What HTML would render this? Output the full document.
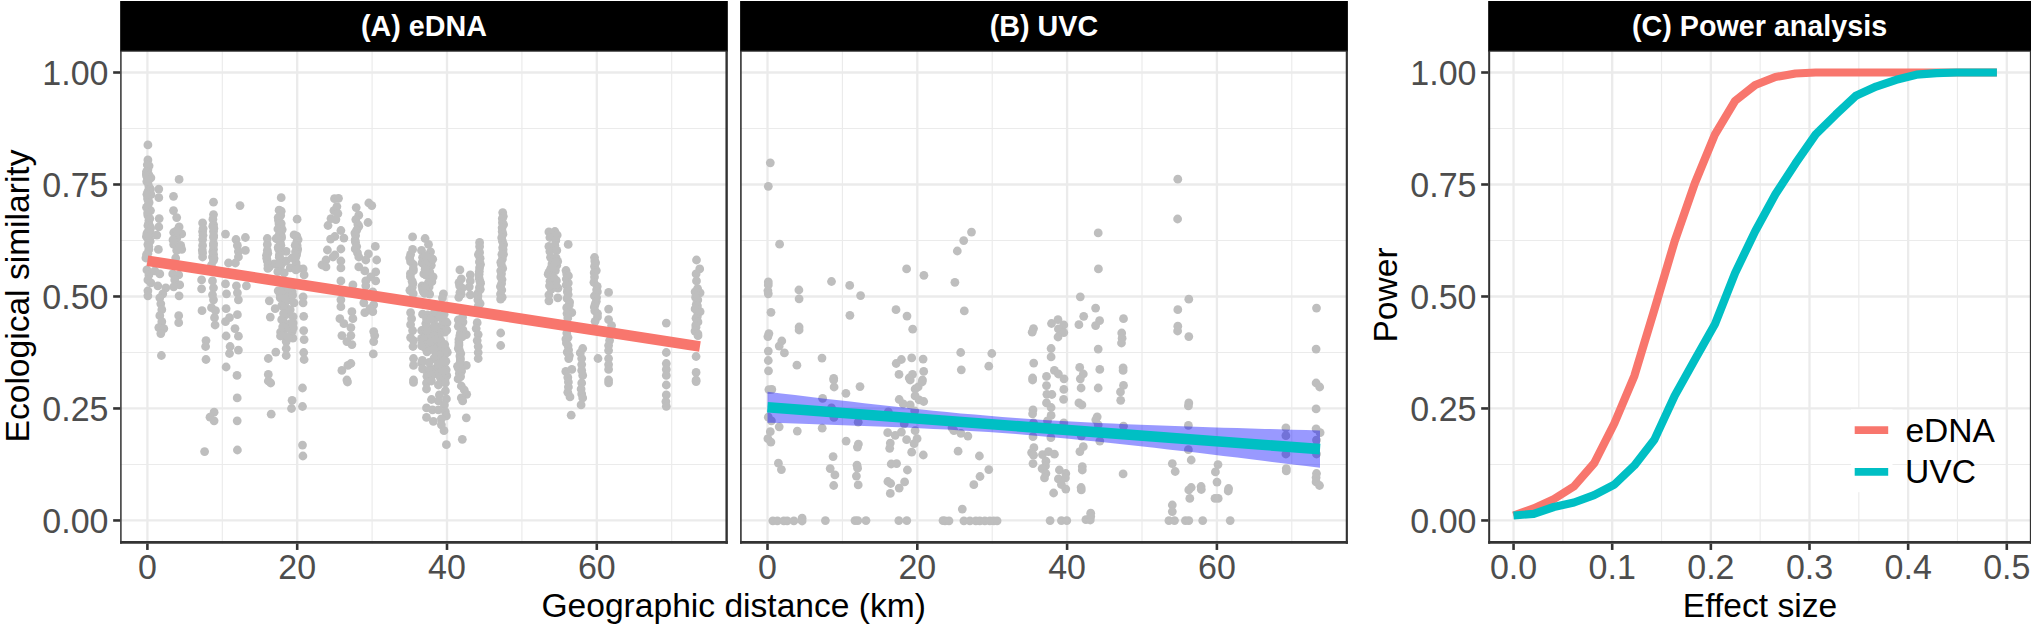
<!DOCTYPE html>
<html><head><meta charset="utf-8"><title>Figure</title>
<style>html,body{margin:0;padding:0;background:#fff}svg{display:block}</style></head>
<body>
<svg width="2031" height="628" viewBox="0 0 2031 628" font-family="'Liberation Sans', sans-serif">
<rect width="2031" height="628" fill="#fff"/>
<g>
<line x1="120.15" x2="727.83" y1="464.46" y2="464.46" stroke="#EBEBEB" stroke-width="1.15"/>
<line x1="120.15" x2="727.83" y1="352.47" y2="352.47" stroke="#EBEBEB" stroke-width="1.15"/>
<line x1="120.15" x2="727.83" y1="240.48" y2="240.48" stroke="#EBEBEB" stroke-width="1.15"/>
<line x1="120.15" x2="727.83" y1="128.49" y2="128.49" stroke="#EBEBEB" stroke-width="1.15"/>
<line x1="222.30" x2="222.30" y1="50.75" y2="543.75" stroke="#EBEBEB" stroke-width="1.15"/>
<line x1="372.10" x2="372.10" y1="50.75" y2="543.75" stroke="#EBEBEB" stroke-width="1.15"/>
<line x1="521.90" x2="521.90" y1="50.75" y2="543.75" stroke="#EBEBEB" stroke-width="1.15"/>
<line x1="671.70" x2="671.70" y1="50.75" y2="543.75" stroke="#EBEBEB" stroke-width="1.15"/>
<line x1="120.15" x2="727.83" y1="520.45" y2="520.45" stroke="#EBEBEB" stroke-width="2.3"/>
<line x1="120.15" x2="727.83" y1="408.46" y2="408.46" stroke="#EBEBEB" stroke-width="2.3"/>
<line x1="120.15" x2="727.83" y1="296.48" y2="296.48" stroke="#EBEBEB" stroke-width="2.3"/>
<line x1="120.15" x2="727.83" y1="184.49" y2="184.49" stroke="#EBEBEB" stroke-width="2.3"/>
<line x1="120.15" x2="727.83" y1="72.50" y2="72.50" stroke="#EBEBEB" stroke-width="2.3"/>
<line x1="147.40" x2="147.40" y1="50.75" y2="543.75" stroke="#EBEBEB" stroke-width="2.3"/>
<line x1="297.20" x2="297.20" y1="50.75" y2="543.75" stroke="#EBEBEB" stroke-width="2.3"/>
<line x1="447.00" x2="447.00" y1="50.75" y2="543.75" stroke="#EBEBEB" stroke-width="2.3"/>
<line x1="596.80" x2="596.80" y1="50.75" y2="543.75" stroke="#EBEBEB" stroke-width="2.3"/>
</g>
<g fill="#BEBEBE">
<circle cx="147.9" cy="144.9" r="4.4"/>
<circle cx="147.9" cy="159.9" r="4.4"/>
<circle cx="147.3" cy="164.8" r="4.4"/>
<circle cx="147.9" cy="169.8" r="4.4"/>
<circle cx="148.9" cy="174.8" r="4.4"/>
<circle cx="150.9" cy="177.8" r="4.4"/>
<circle cx="147.9" cy="182.7" r="4.4"/>
<circle cx="148.9" cy="186.7" r="4.4"/>
<circle cx="147.9" cy="191.7" r="4.4"/>
<circle cx="150.9" cy="194.7" r="4.4"/>
<circle cx="147.9" cy="199.7" r="4.4"/>
<circle cx="147.9" cy="205.6" r="4.4"/>
<circle cx="150.5" cy="210.6" r="4.4"/>
<circle cx="147.9" cy="215.6" r="4.4"/>
<circle cx="148.9" cy="220.5" r="4.4"/>
<circle cx="147.9" cy="225.5" r="4.4"/>
<circle cx="149.9" cy="229.5" r="4.4"/>
<circle cx="150.9" cy="233.5" r="4.4"/>
<circle cx="147.9" cy="238.5" r="4.4"/>
<circle cx="147.9" cy="244.4" r="4.4"/>
<circle cx="148.9" cy="249.4" r="4.4"/>
<circle cx="147.9" cy="253.4" r="4.4"/>
<circle cx="158.8" cy="189.1" r="4.4"/>
<circle cx="158.8" cy="197.7" r="4.4"/>
<circle cx="159.2" cy="218.6" r="4.4"/>
<circle cx="158.8" cy="226.9" r="4.4"/>
<circle cx="156.8" cy="235.1" r="4.4"/>
<circle cx="158.4" cy="249.4" r="4.4"/>
<circle cx="179.1" cy="179.4" r="4.4"/>
<circle cx="173.5" cy="196.3" r="4.4"/>
<circle cx="173.5" cy="210.6" r="4.4"/>
<circle cx="176.7" cy="217.6" r="4.4"/>
<circle cx="179.1" cy="226.9" r="4.4"/>
<circle cx="173.7" cy="232.5" r="4.4"/>
<circle cx="181.7" cy="233.9" r="4.4"/>
<circle cx="176.7" cy="238.5" r="4.4"/>
<circle cx="173.7" cy="244.4" r="4.4"/>
<circle cx="180.7" cy="245.4" r="4.4"/>
<circle cx="176.7" cy="250.4" r="4.4"/>
<circle cx="181.7" cy="249.4" r="4.4"/>
<circle cx="202.6" cy="222.9" r="4.4"/>
<circle cx="202.6" cy="231.5" r="4.4"/>
<circle cx="202.6" cy="239.5" r="4.4"/>
<circle cx="202.6" cy="245.4" r="4.4"/>
<circle cx="202.6" cy="253.0" r="4.4"/>
<circle cx="213.5" cy="202.2" r="4.4"/>
<circle cx="213.5" cy="214.6" r="4.4"/>
<circle cx="213.5" cy="224.5" r="4.4"/>
<circle cx="213.5" cy="231.5" r="4.4"/>
<circle cx="213.5" cy="237.5" r="4.4"/>
<circle cx="213.5" cy="243.4" r="4.4"/>
<circle cx="213.5" cy="249.4" r="4.4"/>
<circle cx="225.5" cy="234.1" r="4.4"/>
<circle cx="240.0" cy="205.6" r="4.4"/>
<circle cx="245.4" cy="237.5" r="4.4"/>
<circle cx="236.0" cy="239.5" r="4.4"/>
<circle cx="237.4" cy="245.4" r="4.4"/>
<circle cx="245.4" cy="250.4" r="4.4"/>
<circle cx="238.4" cy="251.4" r="4.4"/>
<circle cx="267.3" cy="238.5" r="4.4"/>
<circle cx="267.3" cy="244.4" r="4.4"/>
<circle cx="267.3" cy="250.4" r="4.4"/>
<circle cx="281.2" cy="197.7" r="4.4"/>
<circle cx="281.2" cy="211.2" r="4.4"/>
<circle cx="278.2" cy="217.6" r="4.4"/>
<circle cx="281.2" cy="223.5" r="4.4"/>
<circle cx="279.2" cy="227.5" r="4.4"/>
<circle cx="282.2" cy="229.5" r="4.4"/>
<circle cx="276.2" cy="238.5" r="4.4"/>
<circle cx="281.2" cy="235.5" r="4.4"/>
<circle cx="280.2" cy="242.4" r="4.4"/>
<circle cx="278.2" cy="247.4" r="4.4"/>
<circle cx="286.2" cy="251.4" r="4.4"/>
<circle cx="280.2" cy="252.4" r="4.4"/>
<circle cx="297.1" cy="219.2" r="4.4"/>
<circle cx="294.1" cy="234.9" r="4.4"/>
<circle cx="298.1" cy="239.5" r="4.4"/>
<circle cx="297.1" cy="245.4" r="4.4"/>
<circle cx="297.1" cy="251.4" r="4.4"/>
<circle cx="149.1" cy="165.8" r="4.4"/>
<circle cx="146.5" cy="171.6" r="4.4"/>
<circle cx="146.4" cy="174.1" r="4.4"/>
<circle cx="146.6" cy="176.1" r="4.4"/>
<circle cx="148.1" cy="179.9" r="4.4"/>
<circle cx="146.8" cy="181.5" r="4.4"/>
<circle cx="150.5" cy="189.0" r="4.4"/>
<circle cx="150.0" cy="192.0" r="4.4"/>
<circle cx="146.9" cy="194.3" r="4.4"/>
<circle cx="147.6" cy="198.0" r="4.4"/>
<circle cx="149.1" cy="202.4" r="4.4"/>
<circle cx="146.5" cy="207.4" r="4.4"/>
<circle cx="147.6" cy="213.1" r="4.4"/>
<circle cx="149.8" cy="218.5" r="4.4"/>
<circle cx="148.6" cy="223.9" r="4.4"/>
<circle cx="149.5" cy="225.6" r="4.4"/>
<circle cx="150.6" cy="227.9" r="4.4"/>
<circle cx="148.1" cy="231.5" r="4.4"/>
<circle cx="146.9" cy="233.7" r="4.4"/>
<circle cx="146.4" cy="236.5" r="4.4"/>
<circle cx="149.6" cy="239.0" r="4.4"/>
<circle cx="150.1" cy="241.2" r="4.4"/>
<circle cx="148.8" cy="246.5" r="4.4"/>
<circle cx="146.5" cy="254.7" r="4.4"/>
<circle cx="334.5" cy="198.7" r="4.4"/>
<circle cx="338.5" cy="198.3" r="4.4"/>
<circle cx="336.9" cy="206.6" r="4.4"/>
<circle cx="333.9" cy="210.6" r="4.4"/>
<circle cx="337.9" cy="213.6" r="4.4"/>
<circle cx="331.0" cy="218.6" r="4.4"/>
<circle cx="335.9" cy="219.6" r="4.4"/>
<circle cx="328.0" cy="225.5" r="4.4"/>
<circle cx="340.9" cy="230.5" r="4.4"/>
<circle cx="334.9" cy="236.5" r="4.4"/>
<circle cx="330.6" cy="239.1" r="4.4"/>
<circle cx="343.9" cy="238.1" r="4.4"/>
<circle cx="327.4" cy="250.0" r="4.4"/>
<circle cx="340.9" cy="249.0" r="4.4"/>
<circle cx="334.9" cy="255.0" r="4.4"/>
<circle cx="356.2" cy="207.6" r="4.4"/>
<circle cx="358.8" cy="215.2" r="4.4"/>
<circle cx="355.8" cy="219.6" r="4.4"/>
<circle cx="368.8" cy="203.0" r="4.4"/>
<circle cx="371.8" cy="205.6" r="4.4"/>
<circle cx="368.0" cy="222.5" r="4.4"/>
<circle cx="375.3" cy="246.4" r="4.4"/>
<circle cx="368.4" cy="253.8" r="4.4"/>
<circle cx="412.6" cy="236.9" r="4.4"/>
<circle cx="425.1" cy="238.5" r="4.4"/>
<circle cx="428.5" cy="244.4" r="4.4"/>
<circle cx="412.6" cy="249.4" r="4.4"/>
<circle cx="421.5" cy="250.4" r="4.4"/>
<circle cx="430.5" cy="251.8" r="4.4"/>
<circle cx="410.6" cy="254.4" r="4.4"/>
<circle cx="479.6" cy="242.4" r="4.4"/>
<circle cx="479.6" cy="246.4" r="4.4"/>
<circle cx="479.6" cy="252.4" r="4.4"/>
<circle cx="502.7" cy="212.6" r="4.4"/>
<circle cx="357.9" cy="224.5" r="4.4"/>
<circle cx="358.8" cy="226.3" r="4.4"/>
<circle cx="356.7" cy="230.2" r="4.4"/>
<circle cx="354.9" cy="233.0" r="4.4"/>
<circle cx="355.6" cy="235.5" r="4.4"/>
<circle cx="355.1" cy="240.0" r="4.4"/>
<circle cx="355.5" cy="242.2" r="4.4"/>
<circle cx="356.7" cy="246.5" r="4.4"/>
<circle cx="355.2" cy="248.9" r="4.4"/>
<circle cx="357.5" cy="252.9" r="4.4"/>
<circle cx="503.3" cy="216.3" r="4.4"/>
<circle cx="502.3" cy="218.6" r="4.4"/>
<circle cx="502.4" cy="222.7" r="4.4"/>
<circle cx="503.6" cy="224.5" r="4.4"/>
<circle cx="502.1" cy="227.8" r="4.4"/>
<circle cx="502.2" cy="231.5" r="4.4"/>
<circle cx="502.9" cy="234.2" r="4.4"/>
<circle cx="501.7" cy="237.7" r="4.4"/>
<circle cx="502.4" cy="241.2" r="4.4"/>
<circle cx="503.6" cy="244.6" r="4.4"/>
<circle cx="502.7" cy="247.6" r="4.4"/>
<circle cx="503.1" cy="249.7" r="4.4"/>
<circle cx="503.5" cy="254.3" r="4.4"/>
<circle cx="548.9" cy="231.9" r="4.4"/>
<circle cx="554.9" cy="231.5" r="4.4"/>
<circle cx="557.2" cy="235.1" r="4.4"/>
<circle cx="549.9" cy="237.5" r="4.4"/>
<circle cx="555.8" cy="240.4" r="4.4"/>
<circle cx="548.9" cy="246.4" r="4.4"/>
<circle cx="554.9" cy="245.4" r="4.4"/>
<circle cx="549.9" cy="251.4" r="4.4"/>
<circle cx="556.8" cy="250.4" r="4.4"/>
<circle cx="568.2" cy="244.4" r="4.4"/>
<circle cx="145.9" cy="258.0" r="4.4"/>
<circle cx="146.9" cy="269.9" r="4.4"/>
<circle cx="148.9" cy="274.9" r="4.4"/>
<circle cx="147.9" cy="279.9" r="4.4"/>
<circle cx="150.9" cy="282.9" r="4.4"/>
<circle cx="147.9" cy="290.8" r="4.4"/>
<circle cx="147.9" cy="295.8" r="4.4"/>
<circle cx="154.8" cy="270.9" r="4.4"/>
<circle cx="159.8" cy="273.9" r="4.4"/>
<circle cx="157.8" cy="285.8" r="4.4"/>
<circle cx="165.8" cy="287.8" r="4.4"/>
<circle cx="162.8" cy="293.8" r="4.4"/>
<circle cx="159.8" cy="297.8" r="4.4"/>
<circle cx="160.8" cy="303.8" r="4.4"/>
<circle cx="161.8" cy="309.7" r="4.4"/>
<circle cx="159.8" cy="315.7" r="4.4"/>
<circle cx="161.8" cy="321.7" r="4.4"/>
<circle cx="158.8" cy="327.6" r="4.4"/>
<circle cx="163.8" cy="328.6" r="4.4"/>
<circle cx="160.8" cy="333.6" r="4.4"/>
<circle cx="161.4" cy="355.5" r="4.4"/>
<circle cx="175.7" cy="258.0" r="4.4"/>
<circle cx="172.7" cy="273.9" r="4.4"/>
<circle cx="178.7" cy="274.9" r="4.4"/>
<circle cx="174.7" cy="279.9" r="4.4"/>
<circle cx="179.7" cy="284.9" r="4.4"/>
<circle cx="173.7" cy="286.8" r="4.4"/>
<circle cx="179.1" cy="295.8" r="4.4"/>
<circle cx="178.7" cy="315.7" r="4.4"/>
<circle cx="178.7" cy="322.7" r="4.4"/>
<circle cx="202.6" cy="257.0" r="4.4"/>
<circle cx="201.6" cy="279.9" r="4.4"/>
<circle cx="201.6" cy="288.8" r="4.4"/>
<circle cx="202.0" cy="310.7" r="4.4"/>
<circle cx="206.0" cy="340.6" r="4.4"/>
<circle cx="205.6" cy="346.5" r="4.4"/>
<circle cx="206.0" cy="359.5" r="4.4"/>
<circle cx="212.5" cy="257.0" r="4.4"/>
<circle cx="211.5" cy="265.0" r="4.4"/>
<circle cx="212.5" cy="280.9" r="4.4"/>
<circle cx="213.5" cy="287.8" r="4.4"/>
<circle cx="212.5" cy="294.8" r="4.4"/>
<circle cx="213.5" cy="299.8" r="4.4"/>
<circle cx="211.5" cy="307.7" r="4.4"/>
<circle cx="215.5" cy="310.7" r="4.4"/>
<circle cx="214.5" cy="317.7" r="4.4"/>
<circle cx="215.1" cy="325.0" r="4.4"/>
<circle cx="228.5" cy="263.0" r="4.4"/>
<circle cx="225.5" cy="283.9" r="4.4"/>
<circle cx="226.5" cy="293.8" r="4.4"/>
<circle cx="226.1" cy="308.7" r="4.4"/>
<circle cx="229.5" cy="317.7" r="4.4"/>
<circle cx="225.5" cy="321.7" r="4.4"/>
<circle cx="226.1" cy="336.0" r="4.4"/>
<circle cx="230.1" cy="346.5" r="4.4"/>
<circle cx="229.5" cy="353.5" r="4.4"/>
<circle cx="226.1" cy="367.0" r="4.4"/>
<circle cx="238.4" cy="257.0" r="4.4"/>
<circle cx="235.4" cy="263.0" r="4.4"/>
<circle cx="236.4" cy="285.8" r="4.4"/>
<circle cx="246.4" cy="285.8" r="4.4"/>
<circle cx="237.4" cy="292.8" r="4.4"/>
<circle cx="238.4" cy="299.8" r="4.4"/>
<circle cx="237.4" cy="314.7" r="4.4"/>
<circle cx="235.0" cy="328.6" r="4.4"/>
<circle cx="238.4" cy="336.2" r="4.4"/>
<circle cx="238.4" cy="350.1" r="4.4"/>
<circle cx="237.0" cy="375.4" r="4.4"/>
<circle cx="267.3" cy="261.0" r="4.4"/>
<circle cx="269.3" cy="266.9" r="4.4"/>
<circle cx="274.2" cy="264.0" r="4.4"/>
<circle cx="269.3" cy="300.8" r="4.4"/>
<circle cx="275.2" cy="308.7" r="4.4"/>
<circle cx="270.3" cy="317.1" r="4.4"/>
<circle cx="275.8" cy="352.1" r="4.4"/>
<circle cx="268.3" cy="358.5" r="4.4"/>
<circle cx="268.3" cy="374.4" r="4.4"/>
<circle cx="280.2" cy="259.0" r="4.4"/>
<circle cx="286.2" cy="261.0" r="4.4"/>
<circle cx="292.1" cy="258.0" r="4.4"/>
<circle cx="296.1" cy="263.0" r="4.4"/>
<circle cx="280.2" cy="266.9" r="4.4"/>
<circle cx="290.2" cy="267.9" r="4.4"/>
<circle cx="284.2" cy="272.9" r="4.4"/>
<circle cx="278.2" cy="290.8" r="4.4"/>
<circle cx="286.2" cy="289.8" r="4.4"/>
<circle cx="292.1" cy="291.8" r="4.4"/>
<circle cx="280.2" cy="297.8" r="4.4"/>
<circle cx="288.2" cy="299.8" r="4.4"/>
<circle cx="294.1" cy="302.8" r="4.4"/>
<circle cx="283.2" cy="306.7" r="4.4"/>
<circle cx="290.2" cy="309.7" r="4.4"/>
<circle cx="286.2" cy="314.7" r="4.4"/>
<circle cx="293.1" cy="316.7" r="4.4"/>
<circle cx="283.2" cy="320.7" r="4.4"/>
<circle cx="290.2" cy="323.7" r="4.4"/>
<circle cx="286.2" cy="328.6" r="4.4"/>
<circle cx="292.1" cy="331.6" r="4.4"/>
<circle cx="284.2" cy="335.6" r="4.4"/>
<circle cx="291.1" cy="336.6" r="4.4"/>
<circle cx="286.2" cy="341.6" r="4.4"/>
<circle cx="286.2" cy="348.5" r="4.4"/>
<circle cx="286.2" cy="355.5" r="4.4"/>
<circle cx="303.1" cy="268.9" r="4.4"/>
<circle cx="304.1" cy="274.9" r="4.4"/>
<circle cx="303.1" cy="296.8" r="4.4"/>
<circle cx="303.1" cy="302.8" r="4.4"/>
<circle cx="303.7" cy="316.3" r="4.4"/>
<circle cx="303.7" cy="330.6" r="4.4"/>
<circle cx="304.1" cy="339.6" r="4.4"/>
<circle cx="303.7" cy="352.5" r="4.4"/>
<circle cx="304.1" cy="359.5" r="4.4"/>
<circle cx="322.0" cy="265.0" r="4.4"/>
<circle cx="293.3" cy="328.1" r="4.4"/>
<circle cx="286.1" cy="307.5" r="4.4"/>
<circle cx="281.7" cy="319.7" r="4.4"/>
<circle cx="281.1" cy="290.3" r="4.4"/>
<circle cx="283.3" cy="295.2" r="4.4"/>
<circle cx="280.2" cy="294.7" r="4.4"/>
<circle cx="281.7" cy="305.7" r="4.4"/>
<circle cx="280.6" cy="332.1" r="4.4"/>
<circle cx="289.4" cy="294.5" r="4.4"/>
<circle cx="284.0" cy="304.8" r="4.4"/>
<circle cx="285.6" cy="293.2" r="4.4"/>
<circle cx="292.9" cy="338.2" r="4.4"/>
<circle cx="287.2" cy="311.9" r="4.4"/>
<circle cx="281.5" cy="292.1" r="4.4"/>
<circle cx="285.3" cy="300.5" r="4.4"/>
<circle cx="292.6" cy="295.2" r="4.4"/>
<circle cx="280.5" cy="336.0" r="4.4"/>
<circle cx="288.3" cy="288.2" r="4.4"/>
<circle cx="288.1" cy="337.5" r="4.4"/>
<circle cx="293.1" cy="322.9" r="4.4"/>
<circle cx="282.7" cy="326.8" r="4.4"/>
<circle cx="288.2" cy="327.2" r="4.4"/>
<circle cx="285.1" cy="298.4" r="4.4"/>
<circle cx="292.4" cy="325.1" r="4.4"/>
<circle cx="283.6" cy="313.6" r="4.4"/>
<circle cx="326.0" cy="260.0" r="4.4"/>
<circle cx="326.0" cy="266.9" r="4.4"/>
<circle cx="333.0" cy="257.0" r="4.4"/>
<circle cx="340.9" cy="261.0" r="4.4"/>
<circle cx="340.9" cy="267.9" r="4.4"/>
<circle cx="340.9" cy="280.9" r="4.4"/>
<circle cx="352.9" cy="284.9" r="4.4"/>
<circle cx="340.9" cy="299.8" r="4.4"/>
<circle cx="340.9" cy="306.7" r="4.4"/>
<circle cx="339.9" cy="318.7" r="4.4"/>
<circle cx="343.9" cy="323.7" r="4.4"/>
<circle cx="351.9" cy="311.7" r="4.4"/>
<circle cx="352.9" cy="318.7" r="4.4"/>
<circle cx="350.9" cy="327.6" r="4.4"/>
<circle cx="341.9" cy="335.6" r="4.4"/>
<circle cx="350.9" cy="335.6" r="4.4"/>
<circle cx="346.9" cy="341.6" r="4.4"/>
<circle cx="351.9" cy="344.6" r="4.4"/>
<circle cx="350.9" cy="363.5" r="4.4"/>
<circle cx="341.9" cy="370.4" r="4.4"/>
<circle cx="347.9" cy="365.4" r="4.4"/>
<circle cx="346.9" cy="380.0" r="4.4"/>
<circle cx="358.8" cy="257.0" r="4.4"/>
<circle cx="365.8" cy="260.0" r="4.4"/>
<circle cx="376.7" cy="260.0" r="4.4"/>
<circle cx="358.8" cy="266.9" r="4.4"/>
<circle cx="364.8" cy="270.9" r="4.4"/>
<circle cx="375.7" cy="271.9" r="4.4"/>
<circle cx="370.8" cy="276.9" r="4.4"/>
<circle cx="365.8" cy="280.9" r="4.4"/>
<circle cx="375.7" cy="280.9" r="4.4"/>
<circle cx="365.8" cy="285.8" r="4.4"/>
<circle cx="372.8" cy="291.8" r="4.4"/>
<circle cx="363.8" cy="302.8" r="4.4"/>
<circle cx="373.7" cy="304.8" r="4.4"/>
<circle cx="364.8" cy="312.7" r="4.4"/>
<circle cx="372.8" cy="311.7" r="4.4"/>
<circle cx="369.8" cy="308.7" r="4.4"/>
<circle cx="373.7" cy="331.6" r="4.4"/>
<circle cx="374.7" cy="335.6" r="4.4"/>
<circle cx="373.7" cy="341.6" r="4.4"/>
<circle cx="373.3" cy="353.9" r="4.4"/>
<circle cx="410.6" cy="312.7" r="4.4"/>
<circle cx="411.6" cy="318.7" r="4.4"/>
<circle cx="410.6" cy="324.7" r="4.4"/>
<circle cx="412.6" cy="330.6" r="4.4"/>
<circle cx="410.6" cy="337.6" r="4.4"/>
<circle cx="413.5" cy="340.6" r="4.4"/>
<circle cx="413.0" cy="346.5" r="4.4"/>
<circle cx="413.5" cy="358.5" r="4.4"/>
<circle cx="413.5" cy="365.4" r="4.4"/>
<circle cx="413.5" cy="380.0" r="4.4"/>
<circle cx="443.4" cy="293.8" r="4.4"/>
<circle cx="442.4" cy="297.8" r="4.4"/>
<circle cx="459.9" cy="269.9" r="4.4"/>
<circle cx="470.3" cy="274.9" r="4.4"/>
<circle cx="470.3" cy="280.9" r="4.4"/>
<circle cx="469.3" cy="286.8" r="4.4"/>
<circle cx="470.3" cy="294.8" r="4.4"/>
<circle cx="466.3" cy="334.6" r="4.4"/>
<circle cx="466.3" cy="365.4" r="4.4"/>
<circle cx="477.2" cy="322.7" r="4.4"/>
<circle cx="476.2" cy="328.6" r="4.4"/>
<circle cx="478.2" cy="334.6" r="4.4"/>
<circle cx="477.2" cy="340.6" r="4.4"/>
<circle cx="478.2" cy="346.5" r="4.4"/>
<circle cx="478.2" cy="352.5" r="4.4"/>
<circle cx="478.2" cy="358.5" r="4.4"/>
<circle cx="500.7" cy="333.0" r="4.4"/>
<circle cx="500.7" cy="345.5" r="4.4"/>
<circle cx="409.7" cy="257.8" r="4.4"/>
<circle cx="410.6" cy="261.7" r="4.4"/>
<circle cx="413.4" cy="264.5" r="4.4"/>
<circle cx="413.3" cy="268.7" r="4.4"/>
<circle cx="413.4" cy="270.7" r="4.4"/>
<circle cx="410.4" cy="273.6" r="4.4"/>
<circle cx="410.4" cy="276.7" r="4.4"/>
<circle cx="412.1" cy="281.2" r="4.4"/>
<circle cx="412.9" cy="283.6" r="4.4"/>
<circle cx="412.2" cy="287.4" r="4.4"/>
<circle cx="409.9" cy="290.3" r="4.4"/>
<circle cx="413.2" cy="293.7" r="4.4"/>
<circle cx="461.3" cy="278.8" r="4.4"/>
<circle cx="459.0" cy="282.6" r="4.4"/>
<circle cx="459.6" cy="285.8" r="4.4"/>
<circle cx="462.2" cy="288.2" r="4.4"/>
<circle cx="459.9" cy="292.5" r="4.4"/>
<circle cx="461.2" cy="294.2" r="4.4"/>
<circle cx="458.8" cy="297.3" r="4.4"/>
<circle cx="462.6" cy="317.2" r="4.4"/>
<circle cx="458.3" cy="319.8" r="4.4"/>
<circle cx="463.0" cy="322.1" r="4.4"/>
<circle cx="459.5" cy="324.5" r="4.4"/>
<circle cx="458.3" cy="326.3" r="4.4"/>
<circle cx="462.9" cy="329.9" r="4.4"/>
<circle cx="460.5" cy="332.9" r="4.4"/>
<circle cx="459.9" cy="335.4" r="4.4"/>
<circle cx="462.1" cy="336.9" r="4.4"/>
<circle cx="458.9" cy="339.7" r="4.4"/>
<circle cx="458.9" cy="342.7" r="4.4"/>
<circle cx="459.0" cy="345.0" r="4.4"/>
<circle cx="458.3" cy="348.4" r="4.4"/>
<circle cx="459.5" cy="350.3" r="4.4"/>
<circle cx="460.8" cy="353.5" r="4.4"/>
<circle cx="459.9" cy="356.1" r="4.4"/>
<circle cx="460.3" cy="358.1" r="4.4"/>
<circle cx="460.4" cy="359.9" r="4.4"/>
<circle cx="460.0" cy="362.8" r="4.4"/>
<circle cx="457.5" cy="366.3" r="4.4"/>
<circle cx="458.5" cy="368.4" r="4.4"/>
<circle cx="461.6" cy="371.1" r="4.4"/>
<circle cx="459.3" cy="373.6" r="4.4"/>
<circle cx="460.6" cy="376.6" r="4.4"/>
<circle cx="458.1" cy="378.9" r="4.4"/>
<circle cx="478.4" cy="254.6" r="4.4"/>
<circle cx="480.1" cy="258.2" r="4.4"/>
<circle cx="479.4" cy="261.9" r="4.4"/>
<circle cx="480.5" cy="264.4" r="4.4"/>
<circle cx="479.6" cy="267.7" r="4.4"/>
<circle cx="479.3" cy="271.3" r="4.4"/>
<circle cx="479.1" cy="274.2" r="4.4"/>
<circle cx="479.1" cy="278.1" r="4.4"/>
<circle cx="479.9" cy="281.2" r="4.4"/>
<circle cx="480.6" cy="283.2" r="4.4"/>
<circle cx="479.4" cy="287.7" r="4.4"/>
<circle cx="480.3" cy="289.3" r="4.4"/>
<circle cx="478.0" cy="293.1" r="4.4"/>
<circle cx="477.9" cy="295.9" r="4.4"/>
<circle cx="477.9" cy="299.9" r="4.4"/>
<circle cx="480.1" cy="303.5" r="4.4"/>
<circle cx="478.1" cy="306.4" r="4.4"/>
<circle cx="501.9" cy="254.3" r="4.4"/>
<circle cx="502.4" cy="259.1" r="4.4"/>
<circle cx="500.8" cy="262.2" r="4.4"/>
<circle cx="501.3" cy="264.5" r="4.4"/>
<circle cx="502.7" cy="268.4" r="4.4"/>
<circle cx="500.7" cy="270.8" r="4.4"/>
<circle cx="501.5" cy="273.8" r="4.4"/>
<circle cx="500.8" cy="276.9" r="4.4"/>
<circle cx="502.0" cy="279.6" r="4.4"/>
<circle cx="501.6" cy="283.5" r="4.4"/>
<circle cx="500.4" cy="286.5" r="4.4"/>
<circle cx="501.8" cy="290.0" r="4.4"/>
<circle cx="500.5" cy="294.1" r="4.4"/>
<circle cx="502.2" cy="297.3" r="4.4"/>
<circle cx="500.6" cy="299.1" r="4.4"/>
<circle cx="422.0" cy="286.0" r="4.4"/>
<circle cx="424.7" cy="260.2" r="4.4"/>
<circle cx="426.5" cy="291.3" r="4.4"/>
<circle cx="431.3" cy="265.3" r="4.4"/>
<circle cx="423.3" cy="291.6" r="4.4"/>
<circle cx="428.3" cy="282.9" r="4.4"/>
<circle cx="422.6" cy="257.3" r="4.4"/>
<circle cx="429.7" cy="271.9" r="4.4"/>
<circle cx="429.1" cy="286.9" r="4.4"/>
<circle cx="422.5" cy="289.1" r="4.4"/>
<circle cx="426.9" cy="268.5" r="4.4"/>
<circle cx="428.1" cy="291.9" r="4.4"/>
<circle cx="427.8" cy="264.5" r="4.4"/>
<circle cx="422.8" cy="261.4" r="4.4"/>
<circle cx="422.1" cy="263.0" r="4.4"/>
<circle cx="425.2" cy="267.1" r="4.4"/>
<circle cx="427.5" cy="262.1" r="4.4"/>
<circle cx="425.7" cy="255.7" r="4.4"/>
<circle cx="430.3" cy="276.9" r="4.4"/>
<circle cx="423.8" cy="273.9" r="4.4"/>
<circle cx="432.7" cy="259.2" r="4.4"/>
<circle cx="427.4" cy="288.2" r="4.4"/>
<circle cx="426.2" cy="275.2" r="4.4"/>
<circle cx="429.7" cy="294.1" r="4.4"/>
<circle cx="425.6" cy="288.1" r="4.4"/>
<circle cx="429.9" cy="280.3" r="4.4"/>
<circle cx="431.9" cy="281.7" r="4.4"/>
<circle cx="424.9" cy="264.6" r="4.4"/>
<circle cx="424.7" cy="293.3" r="4.4"/>
<circle cx="433.1" cy="276.8" r="4.4"/>
<circle cx="425.2" cy="269.2" r="4.4"/>
<circle cx="421.5" cy="338.4" r="4.4"/>
<circle cx="433.8" cy="346.5" r="4.4"/>
<circle cx="426.7" cy="346.7" r="4.4"/>
<circle cx="421.6" cy="330.5" r="4.4"/>
<circle cx="423.8" cy="339.6" r="4.4"/>
<circle cx="422.6" cy="314.2" r="4.4"/>
<circle cx="429.4" cy="328.4" r="4.4"/>
<circle cx="436.7" cy="348.3" r="4.4"/>
<circle cx="440.9" cy="356.9" r="4.4"/>
<circle cx="440.0" cy="371.8" r="4.4"/>
<circle cx="431.6" cy="334.6" r="4.4"/>
<circle cx="447.0" cy="322.8" r="4.4"/>
<circle cx="422.6" cy="368.9" r="4.4"/>
<circle cx="444.6" cy="354.9" r="4.4"/>
<circle cx="440.5" cy="367.3" r="4.4"/>
<circle cx="425.1" cy="347.9" r="4.4"/>
<circle cx="434.6" cy="368.9" r="4.4"/>
<circle cx="442.3" cy="368.3" r="4.4"/>
<circle cx="436.6" cy="372.8" r="4.4"/>
<circle cx="439.2" cy="359.3" r="4.4"/>
<circle cx="427.5" cy="314.8" r="4.4"/>
<circle cx="425.0" cy="337.0" r="4.4"/>
<circle cx="436.0" cy="354.9" r="4.4"/>
<circle cx="437.7" cy="358.5" r="4.4"/>
<circle cx="434.2" cy="312.9" r="4.4"/>
<circle cx="442.1" cy="363.0" r="4.4"/>
<circle cx="434.5" cy="348.7" r="4.4"/>
<circle cx="438.6" cy="317.2" r="4.4"/>
<circle cx="440.6" cy="329.7" r="4.4"/>
<circle cx="423.4" cy="330.6" r="4.4"/>
<circle cx="440.4" cy="326.5" r="4.4"/>
<circle cx="440.6" cy="378.3" r="4.4"/>
<circle cx="434.3" cy="338.4" r="4.4"/>
<circle cx="433.9" cy="358.7" r="4.4"/>
<circle cx="441.3" cy="354.2" r="4.4"/>
<circle cx="425.3" cy="329.8" r="4.4"/>
<circle cx="440.7" cy="333.2" r="4.4"/>
<circle cx="436.2" cy="313.6" r="4.4"/>
<circle cx="439.0" cy="332.3" r="4.4"/>
<circle cx="434.9" cy="344.0" r="4.4"/>
<circle cx="433.6" cy="320.7" r="4.4"/>
<circle cx="444.6" cy="326.1" r="4.4"/>
<circle cx="446.8" cy="375.7" r="4.4"/>
<circle cx="422.0" cy="343.6" r="4.4"/>
<circle cx="442.7" cy="377.8" r="4.4"/>
<circle cx="433.1" cy="330.8" r="4.4"/>
<circle cx="426.9" cy="376.3" r="4.4"/>
<circle cx="427.0" cy="351.8" r="4.4"/>
<circle cx="442.7" cy="346.9" r="4.4"/>
<circle cx="444.5" cy="360.0" r="4.4"/>
<circle cx="427.5" cy="373.1" r="4.4"/>
<circle cx="421.6" cy="345.8" r="4.4"/>
<circle cx="433.2" cy="333.0" r="4.4"/>
<circle cx="429.7" cy="369.2" r="4.4"/>
<circle cx="421.6" cy="363.2" r="4.4"/>
<circle cx="443.2" cy="320.8" r="4.4"/>
<circle cx="444.8" cy="332.2" r="4.4"/>
<circle cx="431.1" cy="339.1" r="4.4"/>
<circle cx="447.3" cy="352.3" r="4.4"/>
<circle cx="430.8" cy="341.5" r="4.4"/>
<circle cx="428.6" cy="316.0" r="4.4"/>
<circle cx="428.9" cy="375.6" r="4.4"/>
<circle cx="428.0" cy="330.6" r="4.4"/>
<circle cx="434.7" cy="325.5" r="4.4"/>
<circle cx="431.2" cy="377.0" r="4.4"/>
<circle cx="444.4" cy="367.3" r="4.4"/>
<circle cx="437.8" cy="374.2" r="4.4"/>
<circle cx="445.8" cy="349.7" r="4.4"/>
<circle cx="440.1" cy="316.0" r="4.4"/>
<circle cx="440.5" cy="343.0" r="4.4"/>
<circle cx="445.5" cy="321.3" r="4.4"/>
<circle cx="433.7" cy="335.8" r="4.4"/>
<circle cx="429.2" cy="362.4" r="4.4"/>
<circle cx="446.8" cy="330.2" r="4.4"/>
<circle cx="435.9" cy="339.2" r="4.4"/>
<circle cx="425.8" cy="323.6" r="4.4"/>
<circle cx="434.4" cy="327.5" r="4.4"/>
<circle cx="445.0" cy="379.7" r="4.4"/>
<circle cx="426.5" cy="318.8" r="4.4"/>
<circle cx="430.4" cy="318.8" r="4.4"/>
<circle cx="440.9" cy="340.5" r="4.4"/>
<circle cx="432.2" cy="348.0" r="4.4"/>
<circle cx="446.2" cy="369.8" r="4.4"/>
<circle cx="444.1" cy="314.2" r="4.4"/>
<circle cx="422.3" cy="360.4" r="4.4"/>
<circle cx="444.7" cy="344.5" r="4.4"/>
<circle cx="431.6" cy="375.1" r="4.4"/>
<circle cx="442.9" cy="370.3" r="4.4"/>
<circle cx="445.9" cy="361.3" r="4.4"/>
<circle cx="438.3" cy="364.2" r="4.4"/>
<circle cx="433.3" cy="349.8" r="4.4"/>
<circle cx="548.9" cy="294.8" r="4.4"/>
<circle cx="557.8" cy="297.8" r="4.4"/>
<circle cx="548.9" cy="300.8" r="4.4"/>
<circle cx="571.8" cy="312.7" r="4.4"/>
<circle cx="565.8" cy="371.4" r="4.4"/>
<circle cx="571.8" cy="369.4" r="4.4"/>
<circle cx="567.8" cy="377.4" r="4.4"/>
<circle cx="582.7" cy="348.5" r="4.4"/>
<circle cx="580.3" cy="352.9" r="4.4"/>
<circle cx="581.7" cy="358.5" r="4.4"/>
<circle cx="581.7" cy="364.5" r="4.4"/>
<circle cx="581.7" cy="370.4" r="4.4"/>
<circle cx="582.7" cy="375.4" r="4.4"/>
<circle cx="598.0" cy="358.5" r="4.4"/>
<circle cx="608.6" cy="292.4" r="4.4"/>
<circle cx="608.6" cy="309.1" r="4.4"/>
<circle cx="608.6" cy="319.7" r="4.4"/>
<circle cx="611.6" cy="325.6" r="4.4"/>
<circle cx="609.6" cy="340.6" r="4.4"/>
<circle cx="608.6" cy="345.5" r="4.4"/>
<circle cx="608.6" cy="350.5" r="4.4"/>
<circle cx="608.6" cy="358.5" r="4.4"/>
<circle cx="608.6" cy="364.5" r="4.4"/>
<circle cx="608.6" cy="369.4" r="4.4"/>
<circle cx="608.6" cy="380.0" r="4.4"/>
<circle cx="666.3" cy="323.1" r="4.4"/>
<circle cx="666.3" cy="352.5" r="4.4"/>
<circle cx="666.3" cy="363.5" r="4.4"/>
<circle cx="666.3" cy="369.4" r="4.4"/>
<circle cx="666.3" cy="375.4" r="4.4"/>
<circle cx="696.5" cy="260.0" r="4.4"/>
<circle cx="699.7" cy="268.9" r="4.4"/>
<circle cx="696.1" cy="273.9" r="4.4"/>
<circle cx="696.5" cy="280.9" r="4.4"/>
<circle cx="700.1" cy="292.8" r="4.4"/>
<circle cx="700.1" cy="311.7" r="4.4"/>
<circle cx="696.1" cy="356.5" r="4.4"/>
<circle cx="696.1" cy="372.4" r="4.4"/>
<circle cx="696.1" cy="380.0" r="4.4"/>
<circle cx="566.0" cy="270.5" r="4.4"/>
<circle cx="566.7" cy="273.9" r="4.4"/>
<circle cx="568.4" cy="275.9" r="4.4"/>
<circle cx="566.3" cy="279.0" r="4.4"/>
<circle cx="568.3" cy="283.0" r="4.4"/>
<circle cx="566.2" cy="285.0" r="4.4"/>
<circle cx="567.9" cy="289.2" r="4.4"/>
<circle cx="567.3" cy="291.7" r="4.4"/>
<circle cx="568.2" cy="294.5" r="4.4"/>
<circle cx="567.0" cy="298.5" r="4.4"/>
<circle cx="569.6" cy="302.0" r="4.4"/>
<circle cx="569.3" cy="304.9" r="4.4"/>
<circle cx="566.7" cy="307.7" r="4.4"/>
<circle cx="569.6" cy="311.7" r="4.4"/>
<circle cx="567.0" cy="313.6" r="4.4"/>
<circle cx="567.8" cy="318.0" r="4.4"/>
<circle cx="566.8" cy="333.1" r="4.4"/>
<circle cx="568.0" cy="337.6" r="4.4"/>
<circle cx="565.9" cy="339.1" r="4.4"/>
<circle cx="566.4" cy="343.0" r="4.4"/>
<circle cx="568.1" cy="345.8" r="4.4"/>
<circle cx="568.6" cy="350.0" r="4.4"/>
<circle cx="567.2" cy="352.1" r="4.4"/>
<circle cx="569.4" cy="355.5" r="4.4"/>
<circle cx="568.7" cy="358.6" r="4.4"/>
<circle cx="594.5" cy="257.5" r="4.4"/>
<circle cx="594.8" cy="261.0" r="4.4"/>
<circle cx="595.6" cy="262.8" r="4.4"/>
<circle cx="594.5" cy="266.4" r="4.4"/>
<circle cx="596.3" cy="270.6" r="4.4"/>
<circle cx="594.2" cy="272.7" r="4.4"/>
<circle cx="594.5" cy="277.0" r="4.4"/>
<circle cx="593.9" cy="282.3" r="4.4"/>
<circle cx="597.2" cy="286.4" r="4.4"/>
<circle cx="596.6" cy="289.8" r="4.4"/>
<circle cx="597.4" cy="291.7" r="4.4"/>
<circle cx="594.4" cy="296.0" r="4.4"/>
<circle cx="596.6" cy="297.5" r="4.4"/>
<circle cx="596.3" cy="301.3" r="4.4"/>
<circle cx="595.1" cy="304.4" r="4.4"/>
<circle cx="594.3" cy="307.0" r="4.4"/>
<circle cx="594.8" cy="310.8" r="4.4"/>
<circle cx="597.5" cy="313.6" r="4.4"/>
<circle cx="597.5" cy="316.9" r="4.4"/>
<circle cx="595.1" cy="321.3" r="4.4"/>
<circle cx="697.6" cy="288.7" r="4.4"/>
<circle cx="695.1" cy="291.8" r="4.4"/>
<circle cx="696.1" cy="295.6" r="4.4"/>
<circle cx="695.6" cy="297.5" r="4.4"/>
<circle cx="697.8" cy="299.9" r="4.4"/>
<circle cx="696.3" cy="304.3" r="4.4"/>
<circle cx="697.4" cy="305.9" r="4.4"/>
<circle cx="695.1" cy="308.9" r="4.4"/>
<circle cx="697.9" cy="312.3" r="4.4"/>
<circle cx="697.3" cy="316.4" r="4.4"/>
<circle cx="696.0" cy="318.3" r="4.4"/>
<circle cx="698.0" cy="321.9" r="4.4"/>
<circle cx="695.8" cy="325.0" r="4.4"/>
<circle cx="696.0" cy="327.2" r="4.4"/>
<circle cx="695.0" cy="331.1" r="4.4"/>
<circle cx="697.9" cy="333.8" r="4.4"/>
<circle cx="698.0" cy="335.7" r="4.4"/>
<circle cx="550.4" cy="271.5" r="4.4"/>
<circle cx="558.0" cy="288.2" r="4.4"/>
<circle cx="552.0" cy="263.7" r="4.4"/>
<circle cx="552.4" cy="272.2" r="4.4"/>
<circle cx="557.7" cy="261.4" r="4.4"/>
<circle cx="556.4" cy="280.7" r="4.4"/>
<circle cx="554.3" cy="266.4" r="4.4"/>
<circle cx="551.3" cy="267.6" r="4.4"/>
<circle cx="556.1" cy="257.8" r="4.4"/>
<circle cx="550.0" cy="281.2" r="4.4"/>
<circle cx="550.5" cy="257.3" r="4.4"/>
<circle cx="548.2" cy="274.2" r="4.4"/>
<circle cx="551.3" cy="289.1" r="4.4"/>
<circle cx="548.9" cy="272.4" r="4.4"/>
<circle cx="555.4" cy="270.6" r="4.4"/>
<circle cx="550.4" cy="269.5" r="4.4"/>
<circle cx="554.4" cy="278.5" r="4.4"/>
<circle cx="555.8" cy="284.5" r="4.4"/>
<circle cx="554.9" cy="259.2" r="4.4"/>
<circle cx="556.8" cy="265.2" r="4.4"/>
<circle cx="553.9" cy="268.0" r="4.4"/>
<circle cx="555.7" cy="261.9" r="4.4"/>
<circle cx="549.5" cy="285.8" r="4.4"/>
<circle cx="268.3" cy="381.0" r="4.4"/>
<circle cx="270.7" cy="383.0" r="4.4"/>
<circle cx="302.5" cy="388.0" r="4.4"/>
<circle cx="237.2" cy="397.9" r="4.4"/>
<circle cx="292.1" cy="400.3" r="4.4"/>
<circle cx="291.5" cy="408.5" r="4.4"/>
<circle cx="302.5" cy="406.5" r="4.4"/>
<circle cx="214.1" cy="412.2" r="4.4"/>
<circle cx="210.0" cy="417.2" r="4.4"/>
<circle cx="214.1" cy="420.8" r="4.4"/>
<circle cx="237.2" cy="420.8" r="4.4"/>
<circle cx="271.2" cy="414.2" r="4.4"/>
<circle cx="204.6" cy="451.6" r="4.4"/>
<circle cx="237.4" cy="450.0" r="4.4"/>
<circle cx="302.5" cy="445.1" r="4.4"/>
<circle cx="302.9" cy="456.0" r="4.4"/>
<circle cx="347.5" cy="382.0" r="4.4"/>
<circle cx="413.5" cy="382.4" r="4.4"/>
<circle cx="426.5" cy="383.0" r="4.4"/>
<circle cx="431.5" cy="381.0" r="4.4"/>
<circle cx="438.4" cy="385.0" r="4.4"/>
<circle cx="445.4" cy="383.0" r="4.4"/>
<circle cx="426.5" cy="389.0" r="4.4"/>
<circle cx="445.4" cy="390.9" r="4.4"/>
<circle cx="439.4" cy="394.9" r="4.4"/>
<circle cx="431.5" cy="399.5" r="4.4"/>
<circle cx="446.4" cy="398.9" r="4.4"/>
<circle cx="438.4" cy="400.9" r="4.4"/>
<circle cx="444.4" cy="404.9" r="4.4"/>
<circle cx="426.5" cy="407.9" r="4.4"/>
<circle cx="432.5" cy="409.9" r="4.4"/>
<circle cx="438.4" cy="409.9" r="4.4"/>
<circle cx="445.4" cy="411.8" r="4.4"/>
<circle cx="426.5" cy="417.4" r="4.4"/>
<circle cx="446.4" cy="415.8" r="4.4"/>
<circle cx="433.4" cy="421.4" r="4.4"/>
<circle cx="441.4" cy="418.8" r="4.4"/>
<circle cx="441.4" cy="424.8" r="4.4"/>
<circle cx="444.0" cy="430.7" r="4.4"/>
<circle cx="446.4" cy="444.7" r="4.4"/>
<circle cx="461.3" cy="386.0" r="4.4"/>
<circle cx="464.3" cy="390.0" r="4.4"/>
<circle cx="466.7" cy="394.3" r="4.4"/>
<circle cx="461.3" cy="397.9" r="4.4"/>
<circle cx="462.7" cy="400.9" r="4.4"/>
<circle cx="466.3" cy="417.8" r="4.4"/>
<circle cx="462.3" cy="439.3" r="4.4"/>
<circle cx="568.4" cy="382.0" r="4.4"/>
<circle cx="568.4" cy="387.0" r="4.4"/>
<circle cx="567.8" cy="392.3" r="4.4"/>
<circle cx="570.0" cy="396.9" r="4.4"/>
<circle cx="571.2" cy="415.2" r="4.4"/>
<circle cx="581.7" cy="383.0" r="4.4"/>
<circle cx="581.1" cy="389.0" r="4.4"/>
<circle cx="581.7" cy="393.9" r="4.4"/>
<circle cx="582.7" cy="397.9" r="4.4"/>
<circle cx="581.1" cy="404.9" r="4.4"/>
<circle cx="608.6" cy="382.8" r="4.4"/>
<circle cx="666.3" cy="385.0" r="4.4"/>
<circle cx="666.3" cy="394.9" r="4.4"/>
<circle cx="665.9" cy="401.5" r="4.4"/>
<circle cx="666.3" cy="406.3" r="4.4"/>
<circle cx="696.1" cy="381.6" r="4.4"/>
<circle cx="267.8" cy="253.3" r="4.4"/>
<circle cx="266.5" cy="255.3" r="4.4"/>
<circle cx="266.7" cy="258.3" r="4.4"/>
<circle cx="268.0" cy="265.0" r="4.4"/>
<circle cx="267.9" cy="268.4" r="4.4"/>
<circle cx="279.1" cy="210.2" r="4.4"/>
<circle cx="280.7" cy="215.5" r="4.4"/>
<circle cx="278.5" cy="220.4" r="4.4"/>
<circle cx="279.0" cy="223.8" r="4.4"/>
<circle cx="280.9" cy="226.0" r="4.4"/>
<circle cx="277.9" cy="229.0" r="4.4"/>
<circle cx="281.1" cy="231.5" r="4.4"/>
<circle cx="279.3" cy="234.3" r="4.4"/>
<circle cx="281.6" cy="237.7" r="4.4"/>
<circle cx="278.1" cy="239.7" r="4.4"/>
<circle cx="280.9" cy="245.3" r="4.4"/>
<circle cx="278.6" cy="249.1" r="4.4"/>
<circle cx="279.3" cy="255.1" r="4.4"/>
<circle cx="279.3" cy="257.2" r="4.4"/>
<circle cx="281.9" cy="263.5" r="4.4"/>
<circle cx="279.6" cy="265.0" r="4.4"/>
<circle cx="277.8" cy="271.7" r="4.4"/>
<circle cx="296.8" cy="236.2" r="4.4"/>
<circle cx="297.0" cy="241.3" r="4.4"/>
<circle cx="295.2" cy="245.3" r="4.4"/>
<circle cx="297.7" cy="249.1" r="4.4"/>
<circle cx="295.5" cy="251.8" r="4.4"/>
<circle cx="296.6" cy="254.7" r="4.4"/>
<circle cx="295.7" cy="257.5" r="4.4"/>
<circle cx="298.3" cy="268.4" r="4.4"/>
<circle cx="295.9" cy="269.9" r="4.4"/>
<circle cx="203.1" cy="228.6" r="4.4"/>
<circle cx="203.0" cy="235.3" r="4.4"/>
<circle cx="202.3" cy="250.1" r="4.4"/>
<circle cx="212.9" cy="219.2" r="4.4"/>
<circle cx="212.8" cy="226.2" r="4.4"/>
<circle cx="213.9" cy="228.4" r="4.4"/>
<circle cx="213.7" cy="235.7" r="4.4"/>
<circle cx="213.4" cy="245.5" r="4.4"/>
<circle cx="212.8" cy="251.8" r="4.4"/>
<circle cx="213.5" cy="254.2" r="4.4"/>
<circle cx="214.0" cy="258.4" r="4.4"/>
<circle cx="213.5" cy="260.5" r="4.4"/>
<circle cx="176.5" cy="232.2" r="4.4"/>
<circle cx="173.0" cy="239.9" r="4.4"/>
<circle cx="176.8" cy="230.6" r="4.4"/>
<circle cx="179.0" cy="248.2" r="4.4"/>
</g>
<line x1="147.40" y1="260.82" x2="699.94" y2="346.47" stroke="#F8766D" stroke-width="10.7"/>
<g fill="#333333">
<rect x="120.15" y="50.75" width="1.5" height="493.00"/>
<rect x="725.43" y="50.75" width="2.4" height="493.00"/>
<rect x="120.15" y="541.00" width="607.68" height="2.75"/>
<rect x="120.15" y="50.25" width="607.68" height="1.5"/>
</g>
<rect x="120.15" y="1" width="607.68" height="49.75" fill="#000"/>
<text x="423.99" y="36.2" text-anchor="middle" font-size="28.7" font-weight="bold" fill="#fff">(A) eDNA</text>
<line x1="147.40" x2="147.40" y1="543.75" y2="549.95" stroke="#333333" stroke-width="2.6"/>
<text transform="translate(147.40,578.9) scale(1,1.04)" text-anchor="middle" font-size="34" fill="#4D4D4D">0</text>
<line x1="297.20" x2="297.20" y1="543.75" y2="549.95" stroke="#333333" stroke-width="2.6"/>
<text transform="translate(297.20,578.9) scale(1,1.04)" text-anchor="middle" font-size="34" fill="#4D4D4D">20</text>
<line x1="447.00" x2="447.00" y1="543.75" y2="549.95" stroke="#333333" stroke-width="2.6"/>
<text transform="translate(447.00,578.9) scale(1,1.04)" text-anchor="middle" font-size="34" fill="#4D4D4D">40</text>
<line x1="596.80" x2="596.80" y1="543.75" y2="549.95" stroke="#333333" stroke-width="2.6"/>
<text transform="translate(596.80,578.9) scale(1,1.04)" text-anchor="middle" font-size="34" fill="#4D4D4D">60</text>
<line x1="113.15" x2="120.15" y1="520.45" y2="520.45" stroke="#333333" stroke-width="2.6"/>
<text transform="translate(108.45,533.05) scale(1,1.04)" text-anchor="end" font-size="34" fill="#4D4D4D">0.00</text>
<line x1="113.15" x2="120.15" y1="408.46" y2="408.46" stroke="#333333" stroke-width="2.6"/>
<text transform="translate(108.45,421.06) scale(1,1.04)" text-anchor="end" font-size="34" fill="#4D4D4D">0.25</text>
<line x1="113.15" x2="120.15" y1="296.48" y2="296.48" stroke="#333333" stroke-width="2.6"/>
<text transform="translate(108.45,309.08) scale(1,1.04)" text-anchor="end" font-size="34" fill="#4D4D4D">0.50</text>
<line x1="113.15" x2="120.15" y1="184.49" y2="184.49" stroke="#333333" stroke-width="2.6"/>
<text transform="translate(108.45,197.09) scale(1,1.04)" text-anchor="end" font-size="34" fill="#4D4D4D">0.75</text>
<line x1="113.15" x2="120.15" y1="72.50" y2="72.50" stroke="#333333" stroke-width="2.6"/>
<text transform="translate(108.45,85.10) scale(1,1.04)" text-anchor="end" font-size="34" fill="#4D4D4D">1.00</text>
<g>
<line x1="740.1" x2="1347.9" y1="464.46" y2="464.46" stroke="#EBEBEB" stroke-width="1.15"/>
<line x1="740.1" x2="1347.9" y1="352.47" y2="352.47" stroke="#EBEBEB" stroke-width="1.15"/>
<line x1="740.1" x2="1347.9" y1="240.48" y2="240.48" stroke="#EBEBEB" stroke-width="1.15"/>
<line x1="740.1" x2="1347.9" y1="128.49" y2="128.49" stroke="#EBEBEB" stroke-width="1.15"/>
<line x1="842.40" x2="842.40" y1="50.75" y2="543.75" stroke="#EBEBEB" stroke-width="1.15"/>
<line x1="992.20" x2="992.20" y1="50.75" y2="543.75" stroke="#EBEBEB" stroke-width="1.15"/>
<line x1="1142.00" x2="1142.00" y1="50.75" y2="543.75" stroke="#EBEBEB" stroke-width="1.15"/>
<line x1="1291.80" x2="1291.80" y1="50.75" y2="543.75" stroke="#EBEBEB" stroke-width="1.15"/>
<line x1="740.1" x2="1347.9" y1="520.45" y2="520.45" stroke="#EBEBEB" stroke-width="2.3"/>
<line x1="740.1" x2="1347.9" y1="408.46" y2="408.46" stroke="#EBEBEB" stroke-width="2.3"/>
<line x1="740.1" x2="1347.9" y1="296.48" y2="296.48" stroke="#EBEBEB" stroke-width="2.3"/>
<line x1="740.1" x2="1347.9" y1="184.49" y2="184.49" stroke="#EBEBEB" stroke-width="2.3"/>
<line x1="740.1" x2="1347.9" y1="72.50" y2="72.50" stroke="#EBEBEB" stroke-width="2.3"/>
<line x1="767.50" x2="767.50" y1="50.75" y2="543.75" stroke="#EBEBEB" stroke-width="2.3"/>
<line x1="917.30" x2="917.30" y1="50.75" y2="543.75" stroke="#EBEBEB" stroke-width="2.3"/>
<line x1="1067.10" x2="1067.10" y1="50.75" y2="543.75" stroke="#EBEBEB" stroke-width="2.3"/>
<line x1="1216.90" x2="1216.90" y1="50.75" y2="543.75" stroke="#EBEBEB" stroke-width="2.3"/>
</g>
<g fill="#BEBEBE">
<circle cx="770.3" cy="162.8" r="4.4"/>
<circle cx="768.3" cy="186.3" r="4.4"/>
<circle cx="779.6" cy="244.2" r="4.4"/>
<circle cx="971.5" cy="232.1" r="4.4"/>
<circle cx="963.7" cy="240.6" r="4.4"/>
<circle cx="957.3" cy="251.0" r="4.4"/>
<circle cx="1098.2" cy="232.9" r="4.4"/>
<circle cx="1177.8" cy="179.2" r="4.4"/>
<circle cx="1177.6" cy="219.0" r="4.4"/>
<circle cx="768.3" cy="281.9" r="4.4"/>
<circle cx="768.3" cy="284.9" r="4.4"/>
<circle cx="767.9" cy="290.8" r="4.4"/>
<circle cx="768.3" cy="293.8" r="4.4"/>
<circle cx="771.0" cy="312.3" r="4.4"/>
<circle cx="768.9" cy="333.6" r="4.4"/>
<circle cx="767.9" cy="336.6" r="4.4"/>
<circle cx="768.3" cy="351.1" r="4.4"/>
<circle cx="768.3" cy="360.5" r="4.4"/>
<circle cx="768.5" cy="370.8" r="4.4"/>
<circle cx="781.8" cy="341.0" r="4.4"/>
<circle cx="779.2" cy="346.1" r="4.4"/>
<circle cx="784.4" cy="352.9" r="4.4"/>
<circle cx="798.9" cy="290.0" r="4.4"/>
<circle cx="799.1" cy="298.8" r="4.4"/>
<circle cx="799.1" cy="327.0" r="4.4"/>
<circle cx="799.1" cy="330.0" r="4.4"/>
<circle cx="796.9" cy="365.2" r="4.4"/>
<circle cx="831.5" cy="281.5" r="4.4"/>
<circle cx="822.0" cy="358.1" r="4.4"/>
<circle cx="833.7" cy="378.4" r="4.4"/>
<circle cx="849.7" cy="285.4" r="4.4"/>
<circle cx="860.6" cy="295.6" r="4.4"/>
<circle cx="849.9" cy="315.3" r="4.4"/>
<circle cx="906.6" cy="268.9" r="4.4"/>
<circle cx="923.9" cy="275.3" r="4.4"/>
<circle cx="896.0" cy="309.7" r="4.4"/>
<circle cx="907.0" cy="316.1" r="4.4"/>
<circle cx="912.7" cy="329.2" r="4.4"/>
<circle cx="901.4" cy="359.5" r="4.4"/>
<circle cx="896.2" cy="363.5" r="4.4"/>
<circle cx="911.7" cy="357.9" r="4.4"/>
<circle cx="923.1" cy="359.1" r="4.4"/>
<circle cx="899.0" cy="374.4" r="4.4"/>
<circle cx="912.5" cy="374.4" r="4.4"/>
<circle cx="923.7" cy="371.4" r="4.4"/>
<circle cx="909.2" cy="378.0" r="4.4"/>
<circle cx="922.5" cy="380.0" r="4.4"/>
<circle cx="954.9" cy="282.3" r="4.4"/>
<circle cx="964.3" cy="310.9" r="4.4"/>
<circle cx="960.7" cy="352.5" r="4.4"/>
<circle cx="961.3" cy="369.8" r="4.4"/>
<circle cx="991.8" cy="353.5" r="4.4"/>
<circle cx="988.8" cy="366.2" r="4.4"/>
<circle cx="1033.5" cy="328.6" r="4.4"/>
<circle cx="1032.2" cy="332.2" r="4.4"/>
<circle cx="1033.7" cy="363.1" r="4.4"/>
<circle cx="1032.6" cy="378.0" r="4.4"/>
<circle cx="1051.5" cy="323.5" r="4.4"/>
<circle cx="1058.0" cy="319.7" r="4.4"/>
<circle cx="1063.8" cy="325.0" r="4.4"/>
<circle cx="1058.4" cy="329.0" r="4.4"/>
<circle cx="1063.8" cy="332.6" r="4.4"/>
<circle cx="1058.0" cy="337.0" r="4.4"/>
<circle cx="1051.1" cy="348.5" r="4.4"/>
<circle cx="1051.1" cy="356.9" r="4.4"/>
<circle cx="1046.5" cy="376.4" r="4.4"/>
<circle cx="1054.4" cy="370.4" r="4.4"/>
<circle cx="1058.4" cy="374.0" r="4.4"/>
<circle cx="1064.0" cy="378.8" r="4.4"/>
<circle cx="1080.3" cy="296.8" r="4.4"/>
<circle cx="1095.6" cy="308.1" r="4.4"/>
<circle cx="1083.7" cy="316.3" r="4.4"/>
<circle cx="1099.6" cy="320.7" r="4.4"/>
<circle cx="1078.9" cy="324.7" r="4.4"/>
<circle cx="1095.6" cy="325.6" r="4.4"/>
<circle cx="1098.4" cy="268.9" r="4.4"/>
<circle cx="1098.2" cy="349.1" r="4.4"/>
<circle cx="1079.7" cy="367.4" r="4.4"/>
<circle cx="1083.3" cy="374.0" r="4.4"/>
<circle cx="1080.3" cy="378.8" r="4.4"/>
<circle cx="1099.8" cy="369.4" r="4.4"/>
<circle cx="1123.5" cy="318.7" r="4.4"/>
<circle cx="1121.7" cy="333.0" r="4.4"/>
<circle cx="1122.1" cy="338.2" r="4.4"/>
<circle cx="1121.5" cy="343.0" r="4.4"/>
<circle cx="1123.1" cy="367.8" r="4.4"/>
<circle cx="1123.1" cy="370.4" r="4.4"/>
<circle cx="1188.8" cy="299.2" r="4.4"/>
<circle cx="1177.8" cy="309.7" r="4.4"/>
<circle cx="1177.8" cy="326.2" r="4.4"/>
<circle cx="1177.6" cy="331.0" r="4.4"/>
<circle cx="1188.8" cy="336.6" r="4.4"/>
<circle cx="1316.5" cy="308.1" r="4.4"/>
<circle cx="1316.1" cy="349.1" r="4.4"/>
<circle cx="768.9" cy="389.6" r="4.4"/>
<circle cx="771.8" cy="389.4" r="4.4"/>
<circle cx="768.3" cy="417.2" r="4.4"/>
<circle cx="771.4" cy="420.8" r="4.4"/>
<circle cx="779.2" cy="426.8" r="4.4"/>
<circle cx="770.3" cy="431.7" r="4.4"/>
<circle cx="767.9" cy="438.7" r="4.4"/>
<circle cx="770.9" cy="442.1" r="4.4"/>
<circle cx="797.3" cy="431.1" r="4.4"/>
<circle cx="778.4" cy="463.2" r="4.4"/>
<circle cx="781.4" cy="469.6" r="4.4"/>
<circle cx="822.6" cy="398.3" r="4.4"/>
<circle cx="822.2" cy="428.2" r="4.4"/>
<circle cx="834.1" cy="387.0" r="4.4"/>
<circle cx="833.7" cy="380.0" r="4.4"/>
<circle cx="831.5" cy="407.9" r="4.4"/>
<circle cx="833.9" cy="417.4" r="4.4"/>
<circle cx="833.1" cy="456.6" r="4.4"/>
<circle cx="830.2" cy="468.6" r="4.4"/>
<circle cx="834.9" cy="474.9" r="4.4"/>
<circle cx="833.7" cy="485.5" r="4.4"/>
<circle cx="845.9" cy="393.3" r="4.4"/>
<circle cx="860.0" cy="386.6" r="4.4"/>
<circle cx="858.2" cy="422.2" r="4.4"/>
<circle cx="846.1" cy="441.1" r="4.4"/>
<circle cx="858.4" cy="444.1" r="4.4"/>
<circle cx="857.4" cy="447.1" r="4.4"/>
<circle cx="857.0" cy="465.2" r="4.4"/>
<circle cx="857.6" cy="468.2" r="4.4"/>
<circle cx="856.4" cy="476.1" r="4.4"/>
<circle cx="858.2" cy="484.9" r="4.4"/>
<circle cx="888.3" cy="411.8" r="4.4"/>
<circle cx="899.2" cy="399.5" r="4.4"/>
<circle cx="903.2" cy="403.9" r="4.4"/>
<circle cx="910.2" cy="404.9" r="4.4"/>
<circle cx="914.7" cy="410.8" r="4.4"/>
<circle cx="915.1" cy="395.9" r="4.4"/>
<circle cx="915.1" cy="389.0" r="4.4"/>
<circle cx="918.1" cy="387.0" r="4.4"/>
<circle cx="910.2" cy="380.0" r="4.4"/>
<circle cx="922.1" cy="382.0" r="4.4"/>
<circle cx="923.7" cy="401.5" r="4.4"/>
<circle cx="919.1" cy="399.9" r="4.4"/>
<circle cx="904.2" cy="423.8" r="4.4"/>
<circle cx="887.7" cy="432.7" r="4.4"/>
<circle cx="895.2" cy="435.3" r="4.4"/>
<circle cx="901.4" cy="432.1" r="4.4"/>
<circle cx="915.1" cy="430.7" r="4.4"/>
<circle cx="890.3" cy="443.1" r="4.4"/>
<circle cx="889.7" cy="448.3" r="4.4"/>
<circle cx="906.6" cy="439.7" r="4.4"/>
<circle cx="917.1" cy="438.7" r="4.4"/>
<circle cx="914.1" cy="443.7" r="4.4"/>
<circle cx="911.7" cy="452.2" r="4.4"/>
<circle cx="923.3" cy="455.0" r="4.4"/>
<circle cx="891.2" cy="464.0" r="4.4"/>
<circle cx="896.6" cy="463.6" r="4.4"/>
<circle cx="907.4" cy="470.0" r="4.4"/>
<circle cx="887.9" cy="481.5" r="4.4"/>
<circle cx="890.7" cy="483.5" r="4.4"/>
<circle cx="904.6" cy="481.9" r="4.4"/>
<circle cx="899.2" cy="488.1" r="4.4"/>
<circle cx="890.3" cy="493.4" r="4.4"/>
<circle cx="953.9" cy="430.7" r="4.4"/>
<circle cx="952.0" cy="427.8" r="4.4"/>
<circle cx="960.9" cy="433.3" r="4.4"/>
<circle cx="967.9" cy="436.1" r="4.4"/>
<circle cx="958.1" cy="451.2" r="4.4"/>
<circle cx="979.4" cy="456.0" r="4.4"/>
<circle cx="988.8" cy="469.6" r="4.4"/>
<circle cx="980.0" cy="476.5" r="4.4"/>
<circle cx="973.8" cy="484.7" r="4.4"/>
<circle cx="1032.6" cy="380.0" r="4.4"/>
<circle cx="1033.0" cy="409.9" r="4.4"/>
<circle cx="1032.6" cy="413.8" r="4.4"/>
<circle cx="1033.5" cy="422.8" r="4.4"/>
<circle cx="1033.0" cy="436.7" r="4.4"/>
<circle cx="1033.9" cy="447.7" r="4.4"/>
<circle cx="1031.6" cy="452.6" r="4.4"/>
<circle cx="1033.5" cy="455.2" r="4.4"/>
<circle cx="1033.0" cy="463.6" r="4.4"/>
<circle cx="1046.5" cy="385.6" r="4.4"/>
<circle cx="1046.9" cy="394.3" r="4.4"/>
<circle cx="1051.9" cy="394.5" r="4.4"/>
<circle cx="1046.5" cy="402.9" r="4.4"/>
<circle cx="1051.1" cy="407.5" r="4.4"/>
<circle cx="1051.1" cy="415.4" r="4.4"/>
<circle cx="1047.5" cy="420.8" r="4.4"/>
<circle cx="1050.9" cy="437.7" r="4.4"/>
<circle cx="1042.5" cy="454.6" r="4.4"/>
<circle cx="1048.5" cy="451.6" r="4.4"/>
<circle cx="1054.4" cy="454.2" r="4.4"/>
<circle cx="1045.9" cy="461.2" r="4.4"/>
<circle cx="1045.5" cy="466.0" r="4.4"/>
<circle cx="1042.1" cy="468.6" r="4.4"/>
<circle cx="1045.9" cy="473.5" r="4.4"/>
<circle cx="1044.5" cy="477.9" r="4.4"/>
<circle cx="1059.4" cy="470.0" r="4.4"/>
<circle cx="1065.8" cy="473.5" r="4.4"/>
<circle cx="1058.4" cy="478.9" r="4.4"/>
<circle cx="1065.4" cy="477.9" r="4.4"/>
<circle cx="1061.4" cy="484.5" r="4.4"/>
<circle cx="1065.8" cy="489.1" r="4.4"/>
<circle cx="1053.6" cy="493.0" r="4.4"/>
<circle cx="1063.8" cy="389.4" r="4.4"/>
<circle cx="1063.6" cy="399.3" r="4.4"/>
<circle cx="1063.8" cy="422.8" r="4.4"/>
<circle cx="1081.1" cy="388.0" r="4.4"/>
<circle cx="1078.9" cy="402.9" r="4.4"/>
<circle cx="1081.9" cy="404.9" r="4.4"/>
<circle cx="1081.3" cy="436.1" r="4.4"/>
<circle cx="1083.3" cy="446.7" r="4.4"/>
<circle cx="1079.9" cy="451.6" r="4.4"/>
<circle cx="1082.3" cy="466.6" r="4.4"/>
<circle cx="1082.3" cy="470.0" r="4.4"/>
<circle cx="1081.1" cy="487.5" r="4.4"/>
<circle cx="1081.3" cy="489.9" r="4.4"/>
<circle cx="1098.2" cy="388.0" r="4.4"/>
<circle cx="1097.2" cy="416.8" r="4.4"/>
<circle cx="1095.8" cy="419.8" r="4.4"/>
<circle cx="1098.2" cy="424.8" r="4.4"/>
<circle cx="1099.8" cy="441.1" r="4.4"/>
<circle cx="1123.5" cy="385.4" r="4.4"/>
<circle cx="1120.5" cy="391.9" r="4.4"/>
<circle cx="1120.7" cy="400.3" r="4.4"/>
<circle cx="1123.5" cy="426.2" r="4.4"/>
<circle cx="1123.1" cy="473.9" r="4.4"/>
<circle cx="1188.8" cy="402.9" r="4.4"/>
<circle cx="1188.4" cy="405.9" r="4.4"/>
<circle cx="1188.4" cy="425.4" r="4.4"/>
<circle cx="1188.4" cy="449.7" r="4.4"/>
<circle cx="1191.2" cy="460.0" r="4.4"/>
<circle cx="1172.3" cy="463.6" r="4.4"/>
<circle cx="1175.2" cy="471.5" r="4.4"/>
<circle cx="1218.0" cy="464.6" r="4.4"/>
<circle cx="1215.4" cy="471.9" r="4.4"/>
<circle cx="1217.0" cy="482.1" r="4.4"/>
<circle cx="1191.2" cy="487.5" r="4.4"/>
<circle cx="1188.8" cy="489.9" r="4.4"/>
<circle cx="1201.1" cy="486.5" r="4.4"/>
<circle cx="1201.3" cy="489.5" r="4.4"/>
<circle cx="1189.8" cy="498.4" r="4.4"/>
<circle cx="1228.6" cy="488.5" r="4.4"/>
<circle cx="1228.2" cy="491.0" r="4.4"/>
<circle cx="1215.0" cy="498.4" r="4.4"/>
<circle cx="1218.2" cy="498.4" r="4.4"/>
<circle cx="1172.3" cy="505.0" r="4.4"/>
<circle cx="1285.9" cy="427.8" r="4.4"/>
<circle cx="1285.9" cy="435.7" r="4.4"/>
<circle cx="1285.9" cy="454.0" r="4.4"/>
<circle cx="1286.3" cy="468.6" r="4.4"/>
<circle cx="1286.3" cy="470.9" r="4.4"/>
<circle cx="1316.1" cy="383.0" r="4.4"/>
<circle cx="1319.7" cy="387.0" r="4.4"/>
<circle cx="1316.1" cy="408.9" r="4.4"/>
<circle cx="1316.1" cy="428.8" r="4.4"/>
<circle cx="1320.1" cy="432.7" r="4.4"/>
<circle cx="1316.5" cy="440.1" r="4.4"/>
<circle cx="1316.5" cy="454.0" r="4.4"/>
<circle cx="1316.5" cy="473.5" r="4.4"/>
<circle cx="1316.1" cy="477.5" r="4.4"/>
<circle cx="1316.1" cy="481.9" r="4.4"/>
<circle cx="1319.5" cy="485.5" r="4.4"/>
<circle cx="772.8" cy="520.8" r="4.4"/>
<circle cx="777.4" cy="520.8" r="4.4"/>
<circle cx="783.8" cy="520.8" r="4.4"/>
<circle cx="787.2" cy="520.8" r="4.4"/>
<circle cx="793.9" cy="520.8" r="4.4"/>
<circle cx="802.1" cy="518.2" r="4.4"/>
<circle cx="802.1" cy="521.0" r="4.4"/>
<circle cx="825.4" cy="520.6" r="4.4"/>
<circle cx="855.0" cy="520.6" r="4.4"/>
<circle cx="857.8" cy="520.6" r="4.4"/>
<circle cx="866.0" cy="520.6" r="4.4"/>
<circle cx="898.8" cy="520.6" r="4.4"/>
<circle cx="906.8" cy="520.6" r="4.4"/>
<circle cx="943.0" cy="520.6" r="4.4"/>
<circle cx="962.3" cy="509.1" r="4.4"/>
<circle cx="945.0" cy="520.8" r="4.4"/>
<circle cx="949.0" cy="520.8" r="4.4"/>
<circle cx="963.9" cy="520.8" r="4.4"/>
<circle cx="969.9" cy="520.8" r="4.4"/>
<circle cx="975.8" cy="520.8" r="4.4"/>
<circle cx="979.8" cy="520.8" r="4.4"/>
<circle cx="984.8" cy="520.8" r="4.4"/>
<circle cx="989.8" cy="520.8" r="4.4"/>
<circle cx="993.7" cy="520.8" r="4.4"/>
<circle cx="997.1" cy="520.8" r="4.4"/>
<circle cx="1050.1" cy="520.6" r="4.4"/>
<circle cx="1061.4" cy="520.6" r="4.4"/>
<circle cx="1066.8" cy="520.6" r="4.4"/>
<circle cx="1085.9" cy="519.6" r="4.4"/>
<circle cx="1090.3" cy="520.0" r="4.4"/>
<circle cx="1090.7" cy="513.2" r="4.4"/>
<circle cx="1090.7" cy="516.6" r="4.4"/>
<circle cx="1172.3" cy="511.6" r="4.4"/>
<circle cx="1168.9" cy="520.6" r="4.4"/>
<circle cx="1174.5" cy="520.6" r="4.4"/>
<circle cx="1185.4" cy="520.6" r="4.4"/>
<circle cx="1188.8" cy="520.6" r="4.4"/>
<circle cx="1202.7" cy="520.6" r="4.4"/>
<circle cx="1230.2" cy="520.6" r="4.4"/>
</g>
<polygon points="767.5,391.7 781.3,393.4 795.1,395.1 808.9,396.8 822.8,398.4 836.6,400.0 850.4,401.6 864.2,403.2 878.0,404.8 891.8,406.3 905.6,407.8 919.4,409.3 933.3,410.7 947.1,412.1 960.9,413.4 974.7,414.6 988.5,415.8 1002.3,417.0 1016.1,418.0 1030.0,419.0 1043.8,419.9 1057.6,420.8 1071.4,421.5 1085.2,422.3 1099.0,423.0 1112.8,423.6 1126.6,424.2 1140.5,424.8 1154.3,425.3 1168.1,425.8 1181.9,426.3 1195.7,426.8 1209.5,427.2 1223.3,427.7 1237.2,428.1 1251.0,428.5 1264.8,428.9 1278.6,429.3 1292.4,429.7 1306.2,430.1 1320.0,430.4 1320.0,467.8 1306.2,466.1 1292.4,464.4 1278.6,462.7 1264.8,461.0 1251.0,459.3 1237.2,457.6 1223.3,455.9 1209.5,454.3 1195.7,452.6 1181.9,451.0 1168.1,449.4 1154.3,447.8 1140.5,446.2 1126.6,444.7 1112.8,443.2 1099.0,441.8 1085.2,440.4 1071.4,439.0 1057.6,437.7 1043.8,436.4 1030.0,435.3 1016.1,434.1 1002.3,433.1 988.5,432.1 974.7,431.2 960.9,430.4 947.1,429.6 933.3,428.9 919.4,428.2 905.6,427.6 891.8,427.0 878.0,426.4 864.2,425.9 850.4,425.4 836.6,424.9 822.8,424.4 808.9,424.0 795.1,423.5 781.3,423.1 767.5,422.7" fill="#0000FF" fill-opacity="0.4"/>
<line x1="767.50" y1="407.21" x2="1320.04" y2="449.14" stroke="#00BFC4" stroke-width="10.6"/>
<g fill="#333333">
<rect x="740.1" y="50.75" width="1.6" height="493.00"/>
<rect x="1345.75" y="50.75" width="2.15" height="493.00"/>
<rect x="740.1" y="541.00" width="607.80" height="2.75"/>
<rect x="740.1" y="50.25" width="607.80" height="1.5"/>
</g>
<rect x="740.1" y="1" width="607.80" height="49.75" fill="#000"/>
<text x="1044.00" y="36.2" text-anchor="middle" font-size="28.7" font-weight="bold" fill="#fff">(B) UVC</text>
<line x1="767.50" x2="767.50" y1="543.75" y2="549.95" stroke="#333333" stroke-width="2.6"/>
<text transform="translate(767.50,578.9) scale(1,1.04)" text-anchor="middle" font-size="34" fill="#4D4D4D">0</text>
<line x1="917.30" x2="917.30" y1="543.75" y2="549.95" stroke="#333333" stroke-width="2.6"/>
<text transform="translate(917.30,578.9) scale(1,1.04)" text-anchor="middle" font-size="34" fill="#4D4D4D">20</text>
<line x1="1067.10" x2="1067.10" y1="543.75" y2="549.95" stroke="#333333" stroke-width="2.6"/>
<text transform="translate(1067.10,578.9) scale(1,1.04)" text-anchor="middle" font-size="34" fill="#4D4D4D">40</text>
<line x1="1216.90" x2="1216.90" y1="543.75" y2="549.95" stroke="#333333" stroke-width="2.6"/>
<text transform="translate(1216.90,578.9) scale(1,1.04)" text-anchor="middle" font-size="34" fill="#4D4D4D">60</text>
<g>
<line x1="1488.17" x2="2031.0" y1="464.46" y2="464.46" stroke="#EBEBEB" stroke-width="1.15"/>
<line x1="1488.17" x2="2031.0" y1="352.47" y2="352.47" stroke="#EBEBEB" stroke-width="1.15"/>
<line x1="1488.17" x2="2031.0" y1="240.48" y2="240.48" stroke="#EBEBEB" stroke-width="1.15"/>
<line x1="1488.17" x2="2031.0" y1="128.49" y2="128.49" stroke="#EBEBEB" stroke-width="1.15"/>
<line x1="1562.88" x2="1562.88" y1="50.75" y2="543.75" stroke="#EBEBEB" stroke-width="1.15"/>
<line x1="1661.52" x2="1661.52" y1="50.75" y2="543.75" stroke="#EBEBEB" stroke-width="1.15"/>
<line x1="1760.17" x2="1760.17" y1="50.75" y2="543.75" stroke="#EBEBEB" stroke-width="1.15"/>
<line x1="1858.82" x2="1858.82" y1="50.75" y2="543.75" stroke="#EBEBEB" stroke-width="1.15"/>
<line x1="1957.47" x2="1957.47" y1="50.75" y2="543.75" stroke="#EBEBEB" stroke-width="1.15"/>
<line x1="1488.17" x2="2031.0" y1="520.45" y2="520.45" stroke="#EBEBEB" stroke-width="2.3"/>
<line x1="1488.17" x2="2031.0" y1="408.46" y2="408.46" stroke="#EBEBEB" stroke-width="2.3"/>
<line x1="1488.17" x2="2031.0" y1="296.48" y2="296.48" stroke="#EBEBEB" stroke-width="2.3"/>
<line x1="1488.17" x2="2031.0" y1="184.49" y2="184.49" stroke="#EBEBEB" stroke-width="2.3"/>
<line x1="1488.17" x2="2031.0" y1="72.50" y2="72.50" stroke="#EBEBEB" stroke-width="2.3"/>
<line x1="1513.55" x2="1513.55" y1="50.75" y2="543.75" stroke="#EBEBEB" stroke-width="2.3"/>
<line x1="1612.20" x2="1612.20" y1="50.75" y2="543.75" stroke="#EBEBEB" stroke-width="2.3"/>
<line x1="1710.85" x2="1710.85" y1="50.75" y2="543.75" stroke="#EBEBEB" stroke-width="2.3"/>
<line x1="1809.50" x2="1809.50" y1="50.75" y2="543.75" stroke="#EBEBEB" stroke-width="2.3"/>
<line x1="1908.15" x2="1908.15" y1="50.75" y2="543.75" stroke="#EBEBEB" stroke-width="2.3"/>
<line x1="2006.80" x2="2006.80" y1="50.75" y2="543.75" stroke="#EBEBEB" stroke-width="2.3"/>
</g>
<polyline points="1513.5,515.5 1533.7,508.4 1553.8,499.1 1574.0,486.4 1594.1,463.3 1614.3,423.5 1634.4,375.8 1654.5,309.2 1674.7,241.1 1694.8,183.4 1715.0,134.3 1735.1,100.9 1755.2,85.0 1775.4,77.0 1795.5,73.5 1815.7,72.5 1835.8,72.5 1855.9,72.5 1876.1,72.5 1896.2,72.5 1916.4,72.5 1936.5,72.5 1956.7,72.5 1976.8,72.5 1996.9,72.5" fill="none" stroke="#F8766D" stroke-width="8.2" stroke-linejoin="round"/>
<polyline points="1513.5,515.5 1533.7,513.9 1553.8,507.0 1574.0,502.5 1594.1,495.1 1614.3,484.6 1634.4,465.4 1654.5,439.4 1674.7,395.7 1694.8,359.8 1715.0,324.0 1735.1,273.0 1755.2,231.2 1775.4,194.2 1795.5,163.4 1815.7,134.4 1835.8,114.6 1855.9,95.8 1876.1,86.6 1896.2,79.8 1916.4,74.7 1936.5,73.1 1956.7,72.5 1976.8,72.5 1996.9,72.5" fill="none" stroke="#00BFC4" stroke-width="8.2" stroke-linejoin="round"/>
<rect x="1851" y="409.2" width="41.5" height="83" fill="#fff"/>
<line x1="1854.7" x2="1888.2" y1="430.1" y2="430.1" stroke="#F8766D" stroke-width="7.8"/>
<line x1="1854.7" x2="1888.2" y1="471.9" y2="471.9" stroke="#00BFC4" stroke-width="7.8"/>
<text x="1905.4" y="441.7" font-size="33.6" fill="#000">eDNA</text>
<text x="1905.0" y="483.1" font-size="33.6" fill="#000">UVC</text>
<g fill="#333333">
<rect x="1488.17" y="50.75" width="2.0" height="493.00"/>
<rect x="2029.85" y="50.75" width="1.15" height="493.00"/>
<rect x="1488.17" y="541.00" width="542.83" height="2.75"/>
<rect x="1488.17" y="50.25" width="542.83" height="1.5"/>
</g>
<rect x="1488.17" y="1" width="542.83" height="49.75" fill="#000"/>
<text x="1759.59" y="36.2" text-anchor="middle" font-size="28.7" font-weight="bold" fill="#fff">(C) Power analysis</text>
<line x1="1513.55" x2="1513.55" y1="543.75" y2="549.95" stroke="#333333" stroke-width="2.6"/>
<text transform="translate(1513.55,578.9) scale(1,1.04)" text-anchor="middle" font-size="34" fill="#4D4D4D">0.0</text>
<line x1="1612.20" x2="1612.20" y1="543.75" y2="549.95" stroke="#333333" stroke-width="2.6"/>
<text transform="translate(1612.20,578.9) scale(1,1.04)" text-anchor="middle" font-size="34" fill="#4D4D4D">0.1</text>
<line x1="1710.85" x2="1710.85" y1="543.75" y2="549.95" stroke="#333333" stroke-width="2.6"/>
<text transform="translate(1710.85,578.9) scale(1,1.04)" text-anchor="middle" font-size="34" fill="#4D4D4D">0.2</text>
<line x1="1809.50" x2="1809.50" y1="543.75" y2="549.95" stroke="#333333" stroke-width="2.6"/>
<text transform="translate(1809.50,578.9) scale(1,1.04)" text-anchor="middle" font-size="34" fill="#4D4D4D">0.3</text>
<line x1="1908.15" x2="1908.15" y1="543.75" y2="549.95" stroke="#333333" stroke-width="2.6"/>
<text transform="translate(1908.15,578.9) scale(1,1.04)" text-anchor="middle" font-size="34" fill="#4D4D4D">0.4</text>
<line x1="2006.80" x2="2006.80" y1="543.75" y2="549.95" stroke="#333333" stroke-width="2.6"/>
<text transform="translate(2006.80,578.9) scale(1,1.04)" text-anchor="middle" font-size="34" fill="#4D4D4D">0.5</text>
<line x1="1481.17" x2="1488.17" y1="520.45" y2="520.45" stroke="#333333" stroke-width="2.6"/>
<text transform="translate(1476.47,533.05) scale(1,1.04)" text-anchor="end" font-size="34" fill="#4D4D4D">0.00</text>
<line x1="1481.17" x2="1488.17" y1="408.46" y2="408.46" stroke="#333333" stroke-width="2.6"/>
<text transform="translate(1476.47,421.06) scale(1,1.04)" text-anchor="end" font-size="34" fill="#4D4D4D">0.25</text>
<line x1="1481.17" x2="1488.17" y1="296.48" y2="296.48" stroke="#333333" stroke-width="2.6"/>
<text transform="translate(1476.47,309.08) scale(1,1.04)" text-anchor="end" font-size="34" fill="#4D4D4D">0.50</text>
<line x1="1481.17" x2="1488.17" y1="184.49" y2="184.49" stroke="#333333" stroke-width="2.6"/>
<text transform="translate(1476.47,197.09) scale(1,1.04)" text-anchor="end" font-size="34" fill="#4D4D4D">0.75</text>
<line x1="1481.17" x2="1488.17" y1="72.50" y2="72.50" stroke="#333333" stroke-width="2.6"/>
<text transform="translate(1476.47,85.10) scale(1,1.04)" text-anchor="end" font-size="34" fill="#4D4D4D">1.00</text>
<text x="733.7" y="616.8" text-anchor="middle" font-size="33.6" fill="#000">Geographic distance (km)</text>
<text x="1760" y="616.8" text-anchor="middle" font-size="33.6" fill="#000">Effect size</text>
<text transform="translate(29.1,296.0) rotate(-90)" text-anchor="middle" font-size="33.6" fill="#000">Ecological similarity</text>
<text transform="translate(1397.2,295) rotate(-90)" text-anchor="middle" font-size="33.6" fill="#000">Power</text>
</svg>
</body></html>
